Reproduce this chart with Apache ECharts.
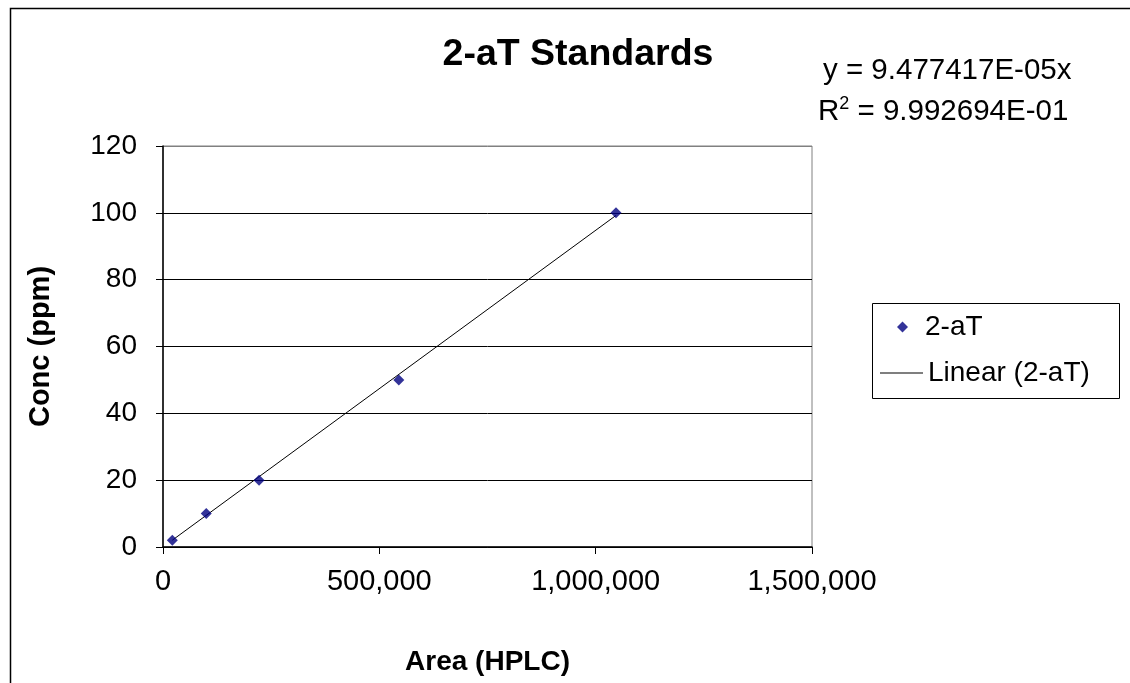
<!DOCTYPE html>
<html>
<head>
<meta charset="utf-8">
<script src="https://cdn.jsdelivr.net/npm/echarts@6/dist/echarts.min.js"></script>
<style>
html,body{margin:0;padding:0;background:#fff;}
#chart{width:1130px;height:683px;}
</style>
</head>
<body>
<div id="chart"></div>
<script>
// Data
const areaValues = [21500, 100000, 222000, 545000, 1047000];
const concValues = [2, 10, 20, 50, 100];
const slope = 9.477417E-05;
const eqText = 'y = 9.477417E-05x';
const r2Text = '9.992694E-01';
const yTicks = [0, 20, 40, 60, 80, 100, 120];
const xTicks = [0, 500000, 1000000, 1500000];

const points = areaValues.map((x, i) => [x, concValues[i]]);
const xMinD = Math.min(...areaValues), xMaxD = Math.max(...areaValues);
const trend = [[xMinD, slope * xMinD], [xMaxD, slope * xMaxD]];

const FONT = '"Liberation Sans", Arial, sans-serif';
const chart = echarts.init(document.getElementById('chart'), null, {renderer: 'canvas'});
chart.setOption({
  backgroundColor: '#fff',
  animation: false,
  textStyle: {fontFamily: FONT, color: '#000'},
  title: {
    text: '2-aT Standards', left: 573, top: 31, textAlign: 'center',
    textStyle: {fontFamily: FONT, fontSize: 37.5, fontWeight: 'bold', color: '#000'}
  },
  grid: {left: 163, right: 318, top: 146, bottom: 136, show: true, borderColor: '#808080', borderWidth: 1, backgroundColor: 'transparent'},
  xAxis: {
    type: 'value', min: xTicks[0], max: xTicks[xTicks.length - 1], interval: xTicks[1] - xTicks[0],
    name: 'Area (HPLC)', nameLocation: 'middle', nameGap: 101,
    nameTextStyle: {fontFamily: FONT, fontSize: 28, fontWeight: 'bold', color: '#000'},
    axisLine: {show: true, onZero: false, lineStyle: {color: '#000', width: 1.5}},
    axisTick: {show: true, length: 7, lineStyle: {color: '#000'}},
    axisLabel: {fontFamily: FONT, fontSize: 29, color: '#000', margin: 20,
      formatter: v => v.toLocaleString('en-US')},
    splitLine: {show: false}
  },
  yAxis: {
    type: 'value', min: yTicks[0], max: yTicks[yTicks.length - 1], interval: yTicks[1] - yTicks[0],
    name: 'Conc (ppm)', nameLocation: 'middle', nameGap: 108,
    nameTextStyle: {fontFamily: FONT, fontSize: 29, fontWeight: 'bold', color: '#000'},
    axisLine: {show: true, onZero: false, lineStyle: {color: '#000', width: 1.5}},
    axisTick: {show: true, length: 7, lineStyle: {color: '#000'}},
    axisLabel: {fontFamily: FONT, fontSize: 28, color: '#000', margin: 26},
    splitLine: {show: true, lineStyle: {color: ['#000', '#000', '#000', '#000', '#000', '#000', '#808080'], width: 1}}
  },
  legend: [
    {
      data: ['2-aT'], orient: 'vertical', left: 897, top: 313,
      itemWidth: 11, itemHeight: 11, itemGap: 10,
      textStyle: {fontFamily: FONT, fontSize: 28, color: '#000', padding: [0, 0, 0, 12]},
      padding: [0, 0, 0, 0]
    },
    {
      data: [{name: 'Linear (2-aT)', icon: 'rect'}], orient: 'vertical', left: 880, top: 359,
      itemWidth: 43, itemHeight: 1, itemGap: 4,
      textStyle: {fontFamily: FONT, fontSize: 28, color: '#000'},
      padding: [0, 0, 0, 0]
    }
  ],
  graphic: [
    {type: 'rect', left: 8, top: 6, shape: {width: 1140, height: 700}, style: {fill: 'none', stroke: '#000', lineWidth: 1.5}, z: -1, silent: true},
    {type: 'rect', left: 872, top: 303, shape: {width: 247, height: 95}, style: {fill: '#fff', stroke: '#000', lineWidth: 1}, z: 0, silent: true},
    {type: 'text', left: 823, top: 56, style: {text: eqText, font: '29.5px ' + FONT, fill: '#000'}},
    {type: 'text', left: 818, top: 95, style: {
      text: '{r|R}{s|2}{r| = ' + r2Text + '}',
      rich: {r: {fontFamily: FONT, fontSize: 29.5, fill: '#000', color: '#000', verticalAlign: 'bottom'},
             s: {fontFamily: FONT, fontSize: 18, fill: '#000', color: '#000', verticalAlign: 'top', padding: [0, 0, 14, 0]}}
    }}
  ],
  series: [
    {
      name: '2-aT', type: 'scatter', data: points, symbol: 'diamond', symbolSize: 11,
      itemStyle: {color: '#000080'}, z: 5
    },
    {
      name: 'Linear (2-aT)', type: 'line', data: trend, symbol: 'none', showSymbol: false,
      lineStyle: {color: '#000', width: 1}, itemStyle: {color: '#000'}, z: 4
    }
  ]
});
</script>
</body>
</html>
